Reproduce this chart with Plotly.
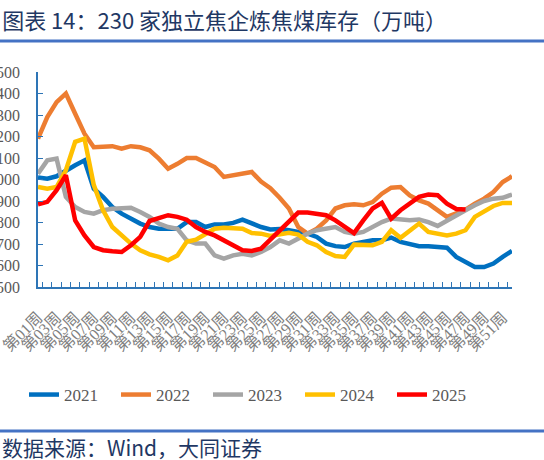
import plotly.graph_objects as go

# weekly coking coal inventory at 230 independent coke plants (10k tonnes)
weeks = [f"第{i:02d}周" for i in range(1, 53)]
week_labels = [w if i % 2 == 0 else "" for i, w in enumerate(weeks)]

y2021 = [1009, 1004, 1015, 1043, 1066, 1089, 957, 919, 872, 841, 818, 795, 779, 771, 771, 771,
         802, 802, 779, 791, 791, 798, 813, 795, 779, 768, 770, 764, 756, 748, 733, 702, 690, 686,
         702, 710, 717, 717, 730, 710, 699, 690, 690, 689, 683, 640, 616, 593, 593, 609, 640, 668]
y2022 = [1190, 1290, 1360, 1400, 1306, 1213, 1150, 1150, 1155, 1143, 1155, 1150, 1136, 1097, 1050,
         1073, 1100, 1100, 1081, 1058, 1012, 1020, 1032, 1035, 990, 960, 915, 865, 779, 748, 771, 810,
         865, 880, 885, 880, 895, 934, 962, 965, 926, 903, 888, 857, 826, 842, 860, 888, 911, 942,
         988, 1015]
y2023 = [1027, 1089, 1097, 919, 872, 849, 841, 857, 864, 869, 869, 849, 826, 795, 779, 771, 717, 702,
         702, 647, 632, 647, 655, 647, 663, 686, 717, 702, 725, 748, 764, 771, 779, 756, 748, 756, 779,
         802, 818, 814, 810, 814, 802, 784, 810, 833, 857, 880, 900, 911, 915, 930]
y2024 = [965, 957, 965, 1043, 1175, 1190, 975, 857, 779, 740, 702, 671, 652, 640, 624, 647, 710, 720,
         748, 771, 776, 771, 771, 751, 748, 737, 742, 752, 744, 710, 694, 663, 644, 640, 697, 694, 694,
         710, 764, 729, 764, 795, 756, 748, 740, 748, 764, 826, 849, 877, 891, 891]
y2025 = [885, 896, 950, 1020, 810, 740, 686, 671, 666, 663, 694, 733, 807, 818, 834, 826, 813, 779,
         756, 740, 717, 694, 671, 668, 678, 720, 764, 802, 846, 846, 838, 834, 810, 779, 751, 810, 865,
         891, 818, 857, 891, 919, 930, 927, 888, 863, 860]

series = [("2021", y2021, "#0070C0"), ("2022", y2022, "#ED7D31"), ("2023", y2023, "#A5A5A5"),
          ("2024", y2024, "#FFC000"), ("2025", y2025, "#FF0000")]

W, H = 544, 460
L, R, T, B = 38, 32, 72, 173
pw, ph = W - L - R, H - T - B

def px_x(x):
    return (x - L) / pw

def px_y(y):
    return (H - B - y) / ph

fig = go.Figure()
for name, vals, col in series:
    fig.add_trace(go.Scatter(x=weeks[:len(vals)], y=vals, name=name, mode="lines",
                             line=dict(color=col, width=4.5)))

serif = "Liberation Serif, Noto Sans CJK SC, serif"
axcol = "#2E75B6"
navy = "#1F3864"

fig.update_layout(
    width=W, height=H,
    margin=dict(l=L, r=R, t=T, b=B),
    paper_bgcolor="white", plot_bgcolor="white",
    font=dict(family=serif, color="#595959"),
    showlegend=True,
    legend=dict(orientation="h", x=px_x(24), xanchor="left", y=px_y(395), yanchor="middle",
                font=dict(size=17, family=serif, color="#595959"),
                entrywidth=47, entrywidthmode="pixels"),
    title=dict(text="图表 14：230 家独立焦企炼焦煤库存（万吨）", xref="container", x=0.004, xanchor="left",
               yref="container", y=1 - 21 / H, yanchor="middle",
               font=dict(family="Noto Sans CJK SC", size=22, color=navy)),
)

fig.update_xaxes(type="category", categoryorder="array", categoryarray=weeks,
                 tickmode="array", tickvals=weeks, ticktext=week_labels,
                 tickson="boundaries", ticks="inside", ticklen=5, tickcolor=axcol,
                 showline=True, linecolor=axcol, linewidth=1.5, showgrid=False,
                 tickangle=-45, tickfont=dict(size=16, family=serif, color="#7F7F7F"),
                 ticklabelstandoff=13, automargin=False)
fig.update_yaxes(range=[500, 1500], dtick=100, ticks="inside", ticklen=5, tickcolor=axcol,
                 showline=True, linecolor=axcol, linewidth=1.5, showgrid=False, zeroline=False,
                 tickfont=dict(size=16, family=serif, color="#595959"),
                 ticklabelstandoff=13, automargin=False)

# header / footer rules
fig.add_shape(type="line", xref="paper", yref="paper", x0=px_x(0), x1=px_x(W),
              y0=px_y(41), y1=px_y(41), line=dict(color="#4472C4", width=3))
fig.add_shape(type="line", xref="paper", yref="paper", x0=px_x(0), x1=px_x(W),
              y0=px_y(431), y1=px_y(431), line=dict(color="#4472C4", width=3))
fig.add_annotation(text="数据来源：Wind，大同证券", xref="paper", yref="paper",
                   x=px_x(0), y=px_y(447), xanchor="left", yanchor="middle", showarrow=False,
                   font=dict(family="Noto Sans CJK SC", size=21, color=navy))

# drop the default page margin so the figure sits at the window's top-left corner
fig.write_html("out.html", config={"displayModeBar": False},
               post_script="document.body.style.margin='0';")
